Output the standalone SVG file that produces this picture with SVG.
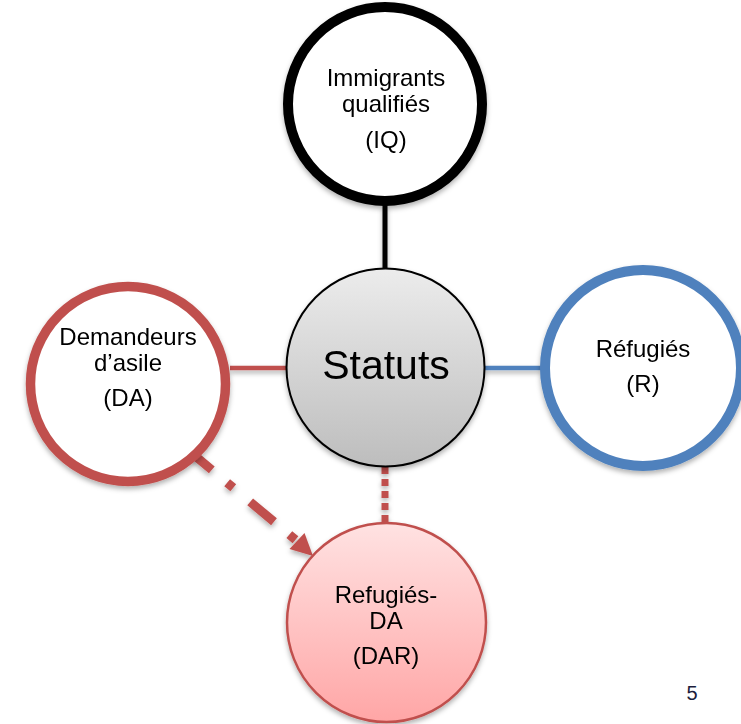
<svg xmlns="http://www.w3.org/2000/svg" width="741" height="724" viewBox="0 0 741 724">
<defs>
<style>
text{font-family:"Liberation Sans",Arial,sans-serif;fill:#000;text-anchor:middle}
.t{font-size:24px}
.big{font-size:41px}
.pg{font-size:20px;fill:#1c1c3c}
</style>
<linearGradient id="gGray" x1="0" y1="0" x2="0" y2="1">
<stop offset="0" stop-color="#ececec"/>
<stop offset="1" stop-color="#bdbdbd"/>
</linearGradient>
<linearGradient id="gPink" x1="0" y1="0" x2="0" y2="1">
<stop offset="0" stop-color="#ffe2e2"/>
<stop offset="1" stop-color="#ffa6a6"/>
</linearGradient>
<filter id="sh" x="-20%" y="-20%" width="140%" height="140%">
<feDropShadow dx="0" dy="3" stdDeviation="2.5" flood-color="#000" flood-opacity="0.3"/>
</filter>
</defs>

<g id="connectors" filter="url(#sh)">
<line x1="385" y1="205" x2="385" y2="270" stroke="#000" stroke-width="5"/>
<line x1="230" y1="368" x2="288" y2="368" stroke="#c0504d" stroke-width="4.5"/>
<line x1="484" y1="368" x2="541" y2="368" stroke="#4f81bd" stroke-width="4.5"/>
<line x1="385" y1="467" x2="385" y2="523" stroke="#c0504d" stroke-width="7" stroke-dasharray="7,5"/>
<line x1="188" y1="450" x2="297" y2="541" stroke="#c0504d" stroke-width="9" stroke-dasharray="31,20,8,22"/>
<polygon points="313,556 289.5,549 304.5,533" fill="#c0504d"/>
</g>

<g id="node-iq" filter="url(#sh)">
<circle cx="385" cy="104" r="97" fill="#fff" stroke="#000" stroke-width="10"/>
<text class="t" x="386" y="86">Immigrants</text>
<text class="t" x="386" y="112">qualifiés</text>
<text class="t" x="386" y="148">(IQ)</text>
</g>

<g id="node-da" filter="url(#sh)">
<circle cx="128" cy="384" r="97.5" fill="#fff" stroke="#c0504d" stroke-width="9.5"/>
<text class="t" x="128" y="345">Demandeurs</text>
<text class="t" x="128" y="371">d’asile</text>
<text class="t" x="128" y="406">(DA)</text>
</g>

<g id="node-r" filter="url(#sh)">
<circle cx="643" cy="368" r="98" fill="#fff" stroke="#4f81bd" stroke-width="10"/>
<text class="t" x="643" y="357">Réfugiés</text>
<text class="t" x="643" y="392">(R)</text>
</g>

<g id="node-statuts" filter="url(#sh)">
<circle cx="385.5" cy="367.5" r="99" fill="url(#gGray)" stroke="#000" stroke-width="2"/>
<text class="big" x="386" y="379">Statuts</text>
</g>

<g id="node-dar" filter="url(#sh)">
<circle cx="386.5" cy="622.5" r="99.5" fill="url(#gPink)" stroke="#c0504d" stroke-width="2.5"/>
<text class="t" x="386" y="603">Refugiés-</text>
<text class="t" x="386" y="629">DA</text>
<text class="t" x="386" y="664">(DAR)</text>
</g>

<text class="pg" x="692" y="700">5</text>
</svg>
